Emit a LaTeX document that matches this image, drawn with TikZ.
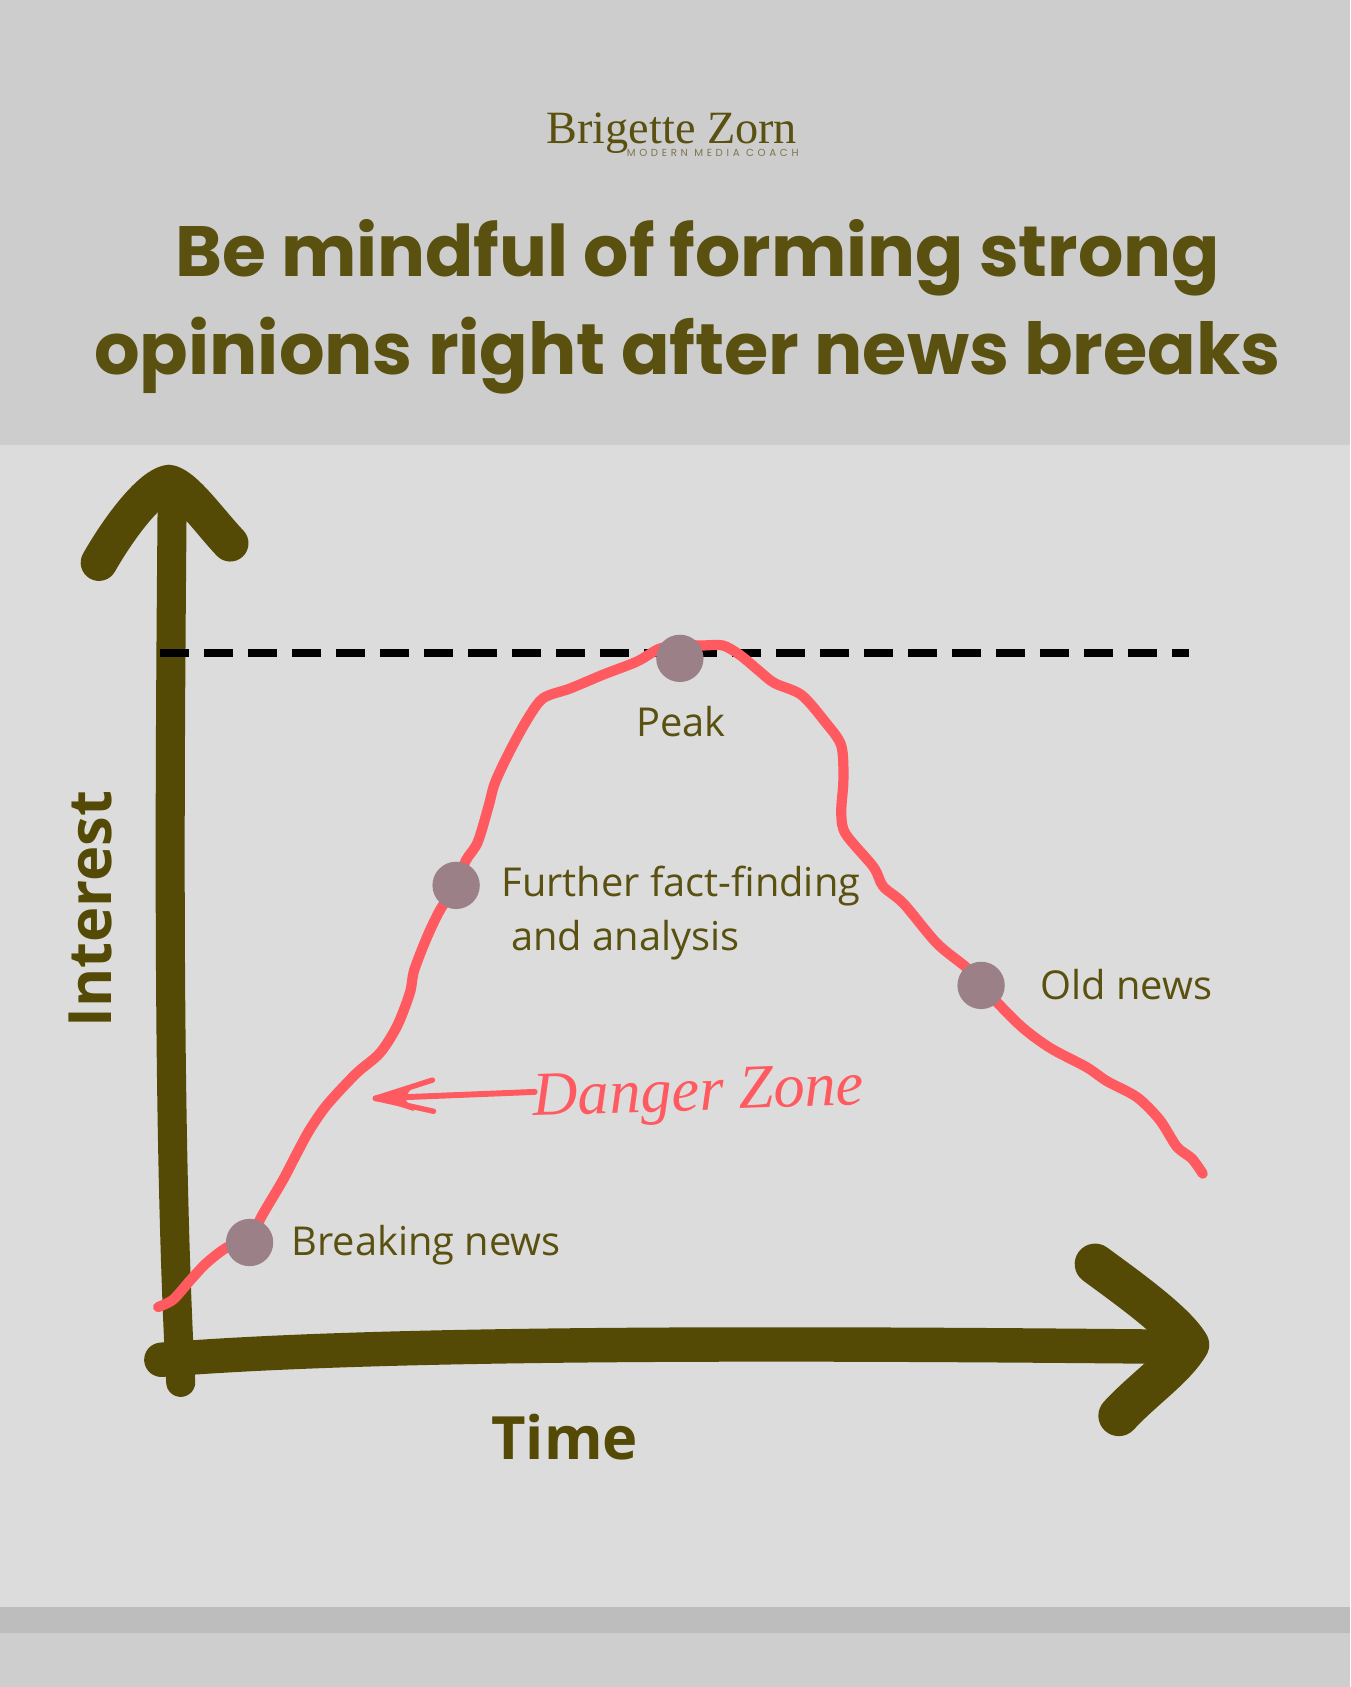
\documentclass[tikz,border=0pt]{standalone}
\usepackage{fontspec}
\setmainfont{Open Sans}
\newfontfamily\titlef{Poppins}
\newfontfamily\logof{Liberation Serif}
\newfontfamily\subf[LetterSpace=36]{Poppins}
\newfontfamily\handf{Liberation Serif}
\definecolor{bgtop}{HTML}{CDCDCD}
\definecolor{bgmid}{HTML}{DCDCDC}
\definecolor{bgband}{HTML}{BDBDBD}
\definecolor{bgbot}{HTML}{CECECE}
\definecolor{olive}{HTML}{544A05}
\definecolor{txt}{HTML}{5A5010}
\definecolor{coral}{HTML}{FF5A5F}
\definecolor{dotc}{HTML}{9B8088}
\newcommand{\fs}[1]{\fontsize{#1}{#1}\selectfont}
\tikzset{
  x=1pt,y=-1pt,
  axisline/.style={draw=olive,line cap=round,line join=round},
  curveline/.style={draw=coral,line width=9.5,line cap=round,line join=round},
  dotnode/.style={circle,fill=dotc,inner sep=0,minimum size=44},
  lab/.style={text=txt,inner sep=0,anchor=base west},
  titletxt/.style={text=txt,inner sep=0,anchor=base},
}
\begin{document}
\begin{tikzpicture}
\useasboundingbox (0,0) rectangle (1255,1568.2);
\fill[bgtop] (0,0) rectangle (1255,414);
\fill[bgmid] (0,414) rectangle (1255,1494);
\fill[bgband] (0,1494) rectangle (1255,1518);
\fill[bgbot] (0,1518) rectangle (1255,1568.2);
% logo
\node[text=txt,inner sep=0,anchor=base] (logo) at (624.5,133) {\logof\fs{43}Brigette Zorn};
\node[text=txt!70!bgtop,inner sep=0,anchor=base] (logosub) at (662.5,145.5) {\subf\fs{9.5}MODERN MEDIA COACH};
% title
\node[titletxt] (t1) at (648.5,257) {\titlef\bfseries\fs{66.2}Be mindful of forming strong};
\node[titletxt] (t2) at (639,348) {\titlef\bfseries\fs{66.6}opinions right after news breaks};
% axes
\draw[axisline,line width=27] (160,470) .. controls (158,700) and (155,1050) .. (168,1285);
\draw[axisline,line width=34] (92,523) .. controls (112,488) and (140,452) .. (157,449) .. controls (172,452) and (195,485) .. (214,505);
\draw[axisline,line width=32] (150,1264) .. controls (350,1248) and (700,1248) .. (1100,1252);
\draw[axisline,line width=38] (1018,1175) .. controls (1045,1195) and (1092,1228) .. (1105,1250) .. controls (1092,1272) and (1062,1292) .. (1040,1316);
% dashed level
\coordinate (dashA) at (149,607);
\coordinate (dashB) at (1105,607);
\draw[black,line width=7.5,dash pattern=on 27pt off 13.9pt] (dashA) -- (dashB);
% interest curve
\draw[curveline] plot[smooth,tension=0.5] coordinates {
(147,1215) (161,1208) (177,1190) (192,1174) (212,1159) (232,1154) (243,1131) (263,1097) (276,1072) (288,1050)
(304,1027) (331,998) (353,979) (369,954) (381,923) (385,902) (397,871) (409,846) (424,823) (433,800) (444,783)
(454,750) (460,728) (473,700) (490,669) (505,649) (530,640) (561,627) (592,615) (613,603) (632,600) (654,600) (672,600)
(688,609) (706,624) (720,635) (745,646) (767,671) (782,693) (784,725) (782,755) (786,775) (812,806) (821,824)
(840,840) (871,877) (899,900) (912,916) (948,953) (976,974) (1010,992) (1029,1005) (1057,1020) (1078,1041) (1094,1066) (1108,1077) (1118,1091)};
% dots
\node[dotnode] (d1) at (232,1155) {};
\node[dotnode] (d2) at (424,823) {};
\node[dotnode] (d3) at (632,612) {};
\node[dotnode] (d4) at (912,916) {};
% labels
\node[lab,anchor=base] (peak) at (633,685) {\fs{37}Peak};
\node[lab] (f1) at (466,833) {\fs{37}Further fact-finding};
\node[lab] (f2) at (475,884) {\fs{37}and analysis};
\node[lab] (old) at (967,929) {\fs{37}Old news};
\node[lab] (brk) at (271,1167) {\fs{37}Breaking news};
\node[text=olive,inner sep=0,anchor=base,font=\bfseries] (time) at (525,1357) {\fs{55.5}Time};
\node[text=olive,inner sep=0,rotate=90,anchor=base,font=\bfseries] (int) at (104,845) {\fs{55.5}Interest};
% danger zone
\coordinate (dzTail) at (497,1015);
\coordinate (dzTip) at (349,1021);
\coordinate (dzUp) at (402,1004);
\coordinate (dzLow) at (403,1033);
\draw[coral,line width=5.5,line cap=round] (dzTail) -- (dzTip);
\draw[coral,line width=5,line cap=round,line join=round] (dzUp) -- (dzTip) -- (dzLow);
\fill[coral] (dzTip) -- (385,1008) -- (376,1021) -- (385,1033) -- cycle;
\node[text=coral,inner sep=0,anchor=base,rotate=2] (dz) at (650,1032) {\handf\itshape\fs{58}Danger Zone};
\end{tikzpicture}
\end{document}
